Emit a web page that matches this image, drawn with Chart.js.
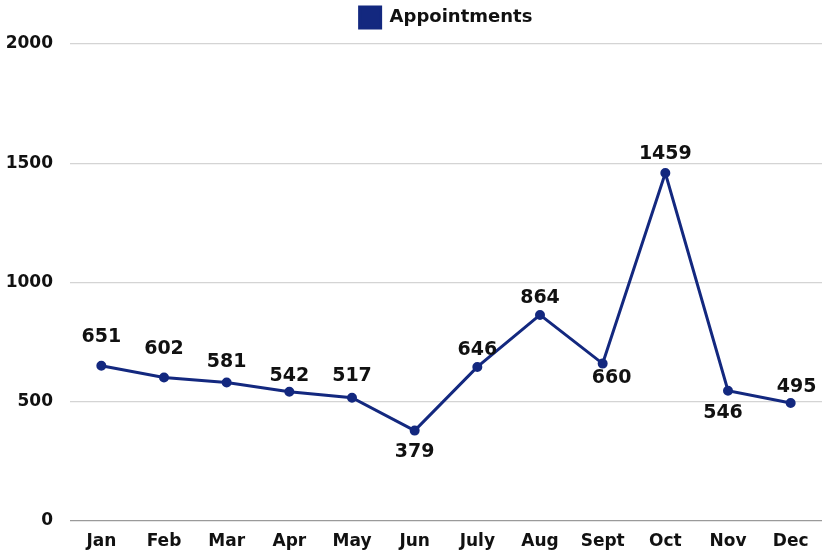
<!DOCTYPE html>
<html>
<head>
<meta charset="utf-8">
<script src="https://cdn.jsdelivr.net/npm/chart.js@4"></script>
<style>
  html, body { margin: 0; padding: 0; background: #fff; }
  #wrap { width: 822px; height: 550px; }
</style>
</head>
<body>
<div id="wrap"><canvas id="chartCanvas" width="822" height="550"></canvas></div>
<script>
// --- data ---
const months = ["Jan", "Feb", "Mar", "Apr", "May", "Jun", "July", "Aug", "Sept", "Oct", "Nov", "Dec"];
const appointments = [651, 602, 581, 542, 517, 379, 646, 864, 660, 1459, 546, 495];
const yTicks = [0, 500, 1000, 1500, 2000];

// label nudges [dx, dy] relative to each point (style only)
const labelNudge = [[0, -29], [0, -28], [0, -20], [0, -16], [0, -22], [0, 21],
                    [0, -17], [0, -17], [9, 14], [0, -19], [-5, 22], [6, -16]];

const navy = "#13287f";
const fontFamily = "'DejaVu Sans', sans-serif";

// draws the value labels next to each point
const valueLabels = {
  id: "valueLabels",
  afterDatasetsDraw(chart) {
    const ctx = chart.ctx;
    const meta = chart.getDatasetMeta(0);
    ctx.save();
    ctx.font = "bold 19px " + fontFamily;
    ctx.fillStyle = "#111";
    ctx.textAlign = "center";
    ctx.textBaseline = "middle";
    meta.data.forEach((pt, i) => {
      const n = labelNudge[i];
      ctx.fillText(String(appointments[i]), pt.x + n[0], pt.y + n[1]);
    });
    ctx.restore();
  }
};

// centre the legend over the plot area and lift it a little
const legendOverPlot = {
  id: "legendOverPlot",
  afterLayout(chart) {
    const lg = chart.legend;
    if (lg) {
      lg.left = chart.chartArea.left;
      lg.right = chart.chartArea.right;
      lg.top -= 6;
      lg.bottom -= 6;
    }
  }
};

new Chart(document.getElementById("chartCanvas"), {
  type: "line",
  data: {
    labels: months,
    datasets: [{
      label: "Appointments",
      data: appointments,
      borderColor: navy,
      backgroundColor: navy,
      borderWidth: 3,
      pointRadius: 3.5,
      pointBackgroundColor: navy,
      pointBorderColor: navy,
      tension: 0
    }]
  },
  options: {
    responsive: false,
    animation: false,
    layout: { autoPadding: false, padding: { left: 0, right: 0, top: 5, bottom: 0 } },
    plugins: {
      legend: {
        position: "top",
        labels: {
          boxWidth: 21,
          boxHeight: 21,
          color: "#111",
          padding: 8,
          font: { family: fontFamily, size: 18, weight: "bold" }
        }
      },
      tooltip: { enabled: false }
    },
    scales: {
      x: {
        offset: true,
        grid: { display: false, drawTicks: false },
        border: { display: false },
        afterFit(axis) {
          axis.height = 29;
          axis.paddingLeft = 0;
          axis.paddingRight = 0;
        },
        ticks: {
          color: "#111",
          padding: 10,
          font: { family: fontFamily, size: 17, weight: "bold" }
        }
      },
      y: {
        min: 0,
        max: 2000,
        afterBuildTicks(axis) { axis.ticks = yTicks.map(v => ({ value: v })); },
        afterFit(axis) { axis.width = 70; },
        border: { display: false },
        grid: {
          color: c => (c.tick && c.tick.value === 0 ? "#9a9a9a" : "#d4d4d4"),
          lineWidth: 1.2,
          drawTicks: false
        },
        ticks: {
          color: "#111",
          padding: 17,
          font: { family: fontFamily, size: 17, weight: "bold" },
          callback: v => String(v)
        }
      }
    }
  },
  plugins: [valueLabels, legendOverPlot]
});
</script>
</body>
</html>
